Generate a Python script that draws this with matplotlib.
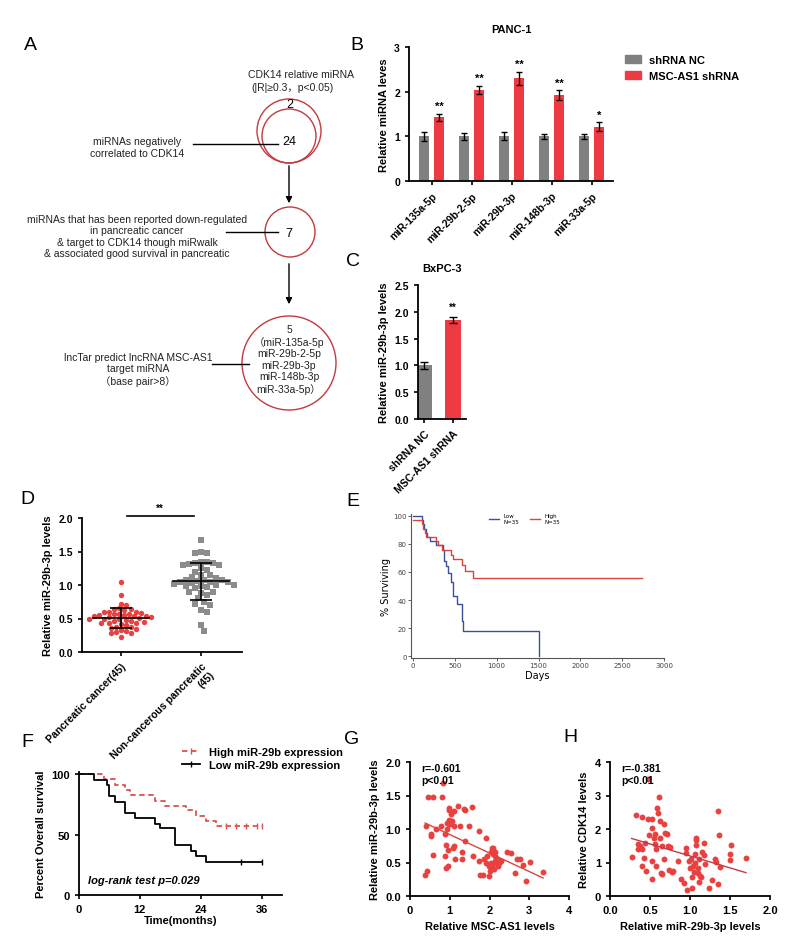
import numpy as np
import matplotlib
matplotlib.use('Agg')
import matplotlib.pyplot as plt
from matplotlib.patches import Circle, Patch
from matplotlib.lines import Line2D

plt.rcParams['font.family'] = ['Liberation Sans', 'Noto Sans CJK SC', 'DejaVu Sans']

# ---- data ----
# B: PANC-1
b_cats = ['miR-135a-5p', 'miR-29b-2-5p', 'miR-29b-3p', 'miR-148b-3p', 'miR-33a-5p']
b_nc = [1.0, 1.0, 1.0, 1.0, 1.0]
b_nc_err = [0.10, 0.08, 0.09, 0.05, 0.05]
b_sh = [1.43, 2.04, 2.30, 1.92, 1.22]
b_sh_err = [0.08, 0.09, 0.15, 0.11, 0.09]
b_stars = ['**', '**', '**', '**', '*']

# C: BxPC-3
c_cats = ['shRNA NC', 'MSC-AS1 shRNA']
c_vals = [1.0, 1.85]
c_err = [0.06, 0.06]

# D: tissue levels
d_cats = ['Pancreatic cancer(45)', 'Non-cancerous pancreatic\n(45)']
d_cancer = [1.04, 0.85, 0.72, 0.70, 0.65, 0.64, 0.64, 0.63, 0.60, 0.60,
            0.59, 0.58, 0.57, 0.57, 0.56, 0.55, 0.55, 0.54, 0.53, 0.53,
            0.52, 0.52, 0.51, 0.50, 0.50, 0.49, 0.48, 0.47, 0.46, 0.45,
            0.44, 0.44, 0.43, 0.42, 0.40, 0.38, 0.37, 0.36, 0.35, 0.33,
            0.32, 0.30, 0.29, 0.28, 0.23]
d_normal = [1.67, 1.49, 1.48, 1.48, 1.35, 1.34, 1.33, 1.33, 1.32, 1.30,
            1.30, 1.25, 1.23, 1.20, 1.15, 1.15, 1.12, 1.10, 1.08, 1.08,
            1.07, 1.06, 1.05, 1.05, 1.04, 1.03, 1.02, 1.00, 1.00, 0.98,
            0.98, 0.97, 0.95, 0.90, 0.90, 0.88, 0.85, 0.80, 0.75, 0.72,
            0.70, 0.62, 0.60, 0.40, 0.32]

# E: KM (days)
e_low_t = [0, 105, 120, 135, 150, 165, 200, 270, 355, 370, 390, 415, 455, 475, 530, 580, 600, 1500]
e_low_s = [100, 97, 94, 91, 88, 85, 82, 79, 76, 68, 64, 59, 53, 43, 37, 25, 18, 0]
e_high_t = [0, 105, 120, 140, 160, 270, 300, 350, 460, 480, 590, 620, 720, 2740]
e_high_s = [97, 94, 91, 88, 85, 82, 79, 76, 72, 69, 65, 61, 56, 56]

# F: KM (months)
f_high_t = [0, 5, 7, 9, 10, 15, 17, 21, 23, 25, 27, 36]
f_high_s = [100, 96, 91, 87, 83, 78, 74, 70, 65, 61, 57, 57]
f_high_cens = [29, 31, 33, 35, 36]
f_low_t = [0, 3, 5.5, 6, 7, 9, 11, 15, 16, 19, 22, 23, 25, 36]
f_low_s = [100, 95, 91, 82, 77, 68, 64, 59, 55, 41, 36, 32, 27, 27]
f_low_cens = [32, 36]

# G: MSC-AS1 vs miR-29b-3p
g_x = [0.38, 0.42, 0.40, 0.46, 0.57, 0.80, 0.84, 0.52, 0.54, 0.59, 0.66, 0.78, 0.89, 0.93,
       0.88, 0.91, 0.95, 0.91, 0.95, 0.97, 0.99, 0.93, 0.97, 1.01, 1.05, 0.99, 1.03, 1.10,
       1.10, 1.08, 1.11, 1.12, 1.22, 1.27, 1.31, 1.31, 1.35, 1.39, 1.39, 1.48, 1.56, 1.59,
       1.73, 1.73, 1.77, 1.83, 1.86, 1.90, 1.92, 1.94, 1.98, 1.98, 2.00, 2.03, 2.05, 2.07,
       2.09, 2.07, 2.11, 2.14, 2.15, 2.17, 2.19, 2.21, 2.24, 2.28, 2.09, 2.15, 2.43, 2.53,
       2.63, 2.70, 2.77, 2.84, 2.91, 3.02, 3.35]
g_y = [0.32, 0.37, 1.04, 1.48, 1.48, 1.48, 1.68, 0.90, 0.92, 0.61, 1.00, 1.04, 0.92, 1.00,
       0.60, 0.42, 0.45, 0.76, 0.69, 1.32, 1.29, 1.09, 1.08, 1.07, 1.12, 1.14, 1.22, 1.27,
       1.04, 0.72, 0.75, 0.55, 1.34, 1.04, 0.65, 0.55, 1.30, 1.28, 0.82, 1.04, 1.33, 0.60,
       0.97, 0.52, 0.32, 0.32, 0.55, 0.50, 0.86, 0.60, 0.45, 0.30, 0.37, 0.65, 0.50, 0.71,
       0.72, 0.45, 0.41, 0.52, 0.60, 0.49, 0.55, 0.45, 0.50, 0.52, 0.62, 0.66, 0.65, 0.64,
       0.35, 0.55, 0.55, 0.46, 0.23, 0.51, 0.36]

# H: miR-29b-3p vs CDK14
h_x = [0.27, 0.32, 0.35, 0.35, 0.38, 0.39, 0.40, 0.40, 0.42, 0.40, 0.45, 0.44, 0.48, 0.47,
       0.49, 0.52, 0.53, 0.53, 0.53, 0.55, 0.56, 0.56, 0.58, 0.58, 0.59, 0.60, 0.61, 0.63,
       0.63, 0.64, 0.65, 0.65, 0.67, 0.68, 0.69, 0.71, 0.73, 0.74, 0.75, 0.77, 0.79, 0.85,
       0.89, 0.92, 0.95, 0.95, 0.96, 0.99, 1.00, 1.01, 1.02, 1.03, 1.04, 1.05, 1.06, 1.06,
       1.08, 1.08, 1.08, 1.10, 1.10, 1.11, 1.13, 1.14, 1.11, 1.15, 1.17, 1.18, 1.19, 1.24,
       1.28, 1.31, 1.33, 1.35, 1.35, 1.36, 1.38, 1.50, 1.51, 1.50, 1.70]
h_y = [1.16, 2.42, 1.54, 1.39, 1.49, 1.44, 1.39, 2.37, 1.14, 0.90, 0.75, 1.59, 2.29, 3.50,
       1.81, 0.50, 2.29, 2.04, 1.04, 1.74, 1.84, 1.54, 1.39, 0.90, 2.64, 2.49, 2.97, 2.24,
       1.74, 0.70, 0.65, 1.49, 1.11, 2.14, 1.89, 1.84, 1.49, 0.77, 1.47, 0.72, 0.75, 1.04,
       0.52, 0.40, 1.44, 1.29, 0.18, 1.04, 0.85, 1.11, 0.58, 0.25, 0.90, 0.72, 1.00, 1.24,
       1.74, 1.67, 1.51, 0.85, 0.70, 0.42, 0.60, 0.58, 1.09, 1.31, 1.22, 1.57, 0.95, 0.25,
       0.48, 1.09, 1.01, 2.54, 0.35, 1.81, 0.88, 1.24, 1.51, 1.07, 1.14]

GRAY = '#808080'
RED = '#ee3a43'
DOT = '#e8413f'

W, H = 800, 953
fig = plt.figure(figsize=(8, 9.53), dpi=100)


def box(l, t, r, b):
    return fig.add_axes([l / W, 1 - b / H, (r - l) / W, (b - t) / H])


def prism(ax, size=7.5):
    for s in ['top', 'right']:
        ax.spines[s].set_visible(False)
    for s in ['left', 'bottom']:
        ax.spines[s].set_linewidth(1.3)
    ax.tick_params(width=1.2, length=3, labelsize=size)
    for lab in ax.get_xticklabels() + ax.get_yticklabels():
        lab.set_fontweight('bold')


def step_at(times, surv, t):
    i = np.searchsorted(times, t, side='right') - 1
    return np.array(surv)[i]


def swarm(vals, sx, sy, d):
    # simple beeswarm: sx, sy = px per data unit, d = marker spacing in px
    order = np.argsort(vals)[::-1]
    placed = []
    offs = np.zeros(len(vals))
    for i in order:
        y = vals[i] * sy
        k = 0
        while True:
            cand = [0.0] if k == 0 else [k * d * 0.5, -k * d * 0.5]
            ok = None
            for c in cand:
                if all((c - px) ** 2 + (y - py) ** 2 >= d * d for px, py in placed):
                    ok = c
                    break
            if ok is not None:
                break
            k += 1
        placed.append((ok, y))
        offs[i] = ok / sx
    return offs


# ---- overlay for panel A and letters ----
ov = fig.add_axes([0, 0, 1, 1])
ov.set_xlim(0, W)
ov.set_ylim(H, 0)
ov.axis('off')

for cx, cy, r in [(289, 132, 32), (289, 137, 27), (290, 233, 25), (289, 364, 47)]:
    ov.add_patch(Circle((cx, cy), r, fill=False, ec='#c23a3f', lw=1))
ov.annotate('', xy=(289, 207), xytext=(289, 164),
            arrowprops=dict(arrowstyle='-|>', color='k', lw=1, mutation_scale=9))
ov.annotate('', xy=(289, 308), xytext=(289, 262),
            arrowprops=dict(arrowstyle='-|>', color='k', lw=1, mutation_scale=9))
ov.plot([193, 278], [145, 145], color='k', lw=1)
ov.plot([226, 278], [233, 233], color='k', lw=1)
ov.plot([212, 249], [365, 365], color='k', lw=1)

ta = dict(ha='center', va='center', fontsize=7.5, color='#222222')
ov.text(301, 75, 'CDK14 relative miRNA', **ta)
ov.text(292, 88, '(|R|≥0.3，p<0.05)', **ta)
ov.text(290, 105, '2', ha='center', va='center', fontsize=9)
ov.text(289, 142, '24', ha='center', va='center', fontsize=9)
ov.text(289, 234, '7', ha='center', va='center', fontsize=9)
ov.text(137, 148, 'miRNAs negatively\ncorrelated to CDK14', **ta)
ov.text(137, 237, 'miRNAs that has been reported down-regulated\nin pancreatic cancer\n'
        '& target to CDK14 though miRwalk\n& associated good survival in pancreatic', **ta)
ov.text(138, 370, 'lncTar predict lncRNA MSC-AS1\ntarget miRNA\n（base pair>8）', **ta)
ov.text(289, 360, '5\n（miR-135a-5p\nmiR-29b-2-5p\nmiR-29b-3p\nmiR-148b-3p\nmiR-33a-5p）', **ta)

for lab, x, y in [('A', 30, 45), ('B', 357, 45), ('C', 353, 262), ('D', 27, 500),
                  ('E', 353, 502), ('F', 27, 743), ('G', 352, 740), ('H', 570, 738)]:
    ov.text(x, y, lab, ha='center', va='center', fontsize=14)

# ---- B ----
axB = box(409, 48, 613, 182)
x = np.arange(len(b_cats))
ek = dict(elinewidth=1, capthick=1)
axB.bar(x - 0.1875, b_nc, 0.25, yerr=b_nc_err, color=GRAY, capsize=2.5, error_kw=ek)
axB.bar(x + 0.1875, b_sh, 0.25, yerr=b_sh_err, color=RED, capsize=2.5, error_kw=ek)
for i in range(len(b_cats)):
    axB.text(x[i] + 0.1875, b_sh[i] + b_sh_err[i] + 0.06, b_stars[i], ha='center',
             va='bottom', fontsize=8, fontweight='bold')
axB.set_xlim(-0.5625, 4.5375)
axB.set_ylim(0, 3)
axB.set_yticks([0, 1, 2, 3])
axB.set_xticks(x)
axB.set_xticklabels(b_cats, rotation=45, ha='right', rotation_mode='anchor')
axB.set_ylabel('Relative miRNA leves', fontsize=8, fontweight='bold')
axB.set_title('PANC-1', fontsize=8, fontweight='bold', pad=11)
prism(axB)
fig.legend([Patch(color=GRAY), Patch(color=RED)], ['shRNA NC', 'MSC-AS1 shRNA'],
           loc='upper left', bbox_to_anchor=(615 / W, 1 - 46 / H), frameon=False,
           handlelength=1.4, handleheight=0.7, prop=dict(size=8, weight='bold'))

# ---- C ----
axC = box(418, 286, 466, 420)
axC.bar([0, 1], c_vals, 0.55, yerr=c_err, color=[GRAY, RED], capsize=3, error_kw=ek)
axC.text(1, c_vals[1] + c_err[1] + 0.08, '**', ha='center', va='bottom', fontsize=7,
         fontweight='bold')
axC.set_xlim(-0.2, 1.45)
axC.set_ylim(0, 2.5)
axC.set_yticks([0, 0.5, 1.0, 1.5, 2.0, 2.5])
axC.set_yticklabels(['0.0', '0.5', '1.0', '1.5', '2.0', '2.5'])
axC.set_xticks([0, 1])
axC.set_xticklabels(c_cats, rotation=45, ha='right', rotation_mode='anchor')
axC.set_ylabel('Relative miR-29b-3p levels', fontsize=8, fontweight='bold')
axC.set_title('BxPC-3', fontsize=8, fontweight='bold', pad=10)
prism(axC)

# ---- D ----
axD = box(82, 519, 242, 653)
for i, (vals, col, mk, dd) in enumerate([(d_cancer, DOT, 'o', 5.0),
                                         (d_normal, '#8c8c8c', 's', 6.0)]):
    v = np.array(vals)
    offs = swarm(v, 80, 67, dd)
    axD.scatter(i + offs, v, s=15, color=col, marker=mk, lw=0, zorder=2)
    m, sd = v.mean(), v.std(ddof=1)
    axD.plot([i - 0.35, i + 0.35], [m, m], color='k', lw=1.2, zorder=3)
    axD.errorbar(i, m, yerr=sd, color='k', capsize=8, lw=1.2, capthick=1.2, zorder=3)
axD.plot([0.075, 0.9125], [2.03, 2.03], color='k', lw=1.2, clip_on=False)
axD.text(0.49, 2.07, '**', ha='center', va='bottom', fontsize=7, fontweight='bold')
axD.set_xlim(-0.4875, 1.5125)
axD.set_ylim(0, 2)
axD.set_yticks([0, 0.5, 1.0, 1.5, 2.0])
axD.set_yticklabels(['0.0', '0.5', '1.0', '1.5', '2.0'])
axD.set_xticks([0, 1])
axD.set_xticklabels(d_cats, rotation=45, ha='right', rotation_mode='anchor')
axD.set_ylabel('Relative miR-29b-3p levels', fontsize=8, fontweight='bold')
prism(axD)

# ---- E ----
axE = box(411, 515, 664, 659)
axE.step(e_low_t, e_low_s, where='post', color='#3b4f9c', lw=1, label='Low\nN=35')
axE.step(e_high_t, e_high_s, where='post', color='#d9443f', lw=1, label='High\nN=35')
axE.set_xlim(-24, 3000)
axE.set_ylim(-1.4, 101.4)
axE.set_xticks(range(0, 3001, 500))
axE.set_yticks(range(0, 101, 20))
for s in ['top', 'right']:
    axE.spines[s].set_visible(False)
for s in ['left', 'bottom']:
    axE.spines[s].set_color('#555555')
    axE.spines[s].set_linewidth(0.8)
axE.tick_params(labelsize=5, colors='#444444', length=2, width=0.6, pad=1)
axE.set_xlabel('Days', fontsize=7, labelpad=1, family='DejaVu Sans')
axE.set_ylabel('% Surviving', fontsize=7, labelpad=2, family='DejaVu Sans')
for lab in axE.get_xticklabels() + axE.get_yticklabels():
    lab.set_family('DejaVu Sans')
axE.legend(ncol=2, loc='upper center', bbox_to_anchor=(0.45, 1.04), frameon=False,
           handlelength=1.8, columnspacing=2, prop=dict(family='DejaVu Sans', size=4))

# ---- F ----
axF = box(79, 773, 282, 896)
fr = '#d9534f'
axF.step(f_high_t, f_high_s, where='post', color=fr, lw=1.3, ls=(0, (3, 2)))
axF.step(f_low_t, f_low_s, where='post', color='k', lw=1.3)
axF.plot(f_high_cens, step_at(f_high_t, f_high_s, f_high_cens), '|', color=fr, ms=4, mew=1)
axF.plot(f_low_cens, step_at(f_low_t, f_low_s, f_low_cens), '|', color='k', ms=4, mew=1)
axF.text(1.8, 10, 'log-rank test p=0.029', fontsize=8, style='italic', fontweight='bold')
axF.set_xlim(0, 40)
axF.set_ylim(0, 101.7)
axF.set_xticks([0, 12, 24, 36])
axF.set_yticks([0, 50, 100])
axF.set_xlabel('Time(months)', fontsize=8, fontweight='bold', labelpad=1)
axF.set_ylabel('Percent Overall survival', fontsize=8, fontweight='bold')
prism(axF, 8)
fig.legend([Line2D([], [], color=fr, lw=1.3, ls=(0, (3, 2)), marker='|', ms=4),
            Line2D([], [], color='k', lw=1.3, marker='|', ms=4)],
           ['High miR-29b expression', 'Low miR-29b expression'],
           loc='upper left', bbox_to_anchor=(172 / W, 1 - 738 / H), frameon=False,
           handlelength=1.6, labelspacing=0.3, prop=dict(size=8, weight='bold'))

# ---- G ----
axG = box(410, 763, 569, 897)
axG.scatter(g_x, g_y, s=18, color=DOT, lw=0)
k, b = np.polyfit(g_x, g_y, 1)
gx = np.array([min(g_x), max(g_x)])
axG.plot(gx, k * gx + b, color='#d9443f', lw=1)
axG.text(0.28, 1.98, 'r=-0.601\np<0.01', fontsize=7.5, fontweight='bold', va='top')
axG.set_xlim(0, 4)
axG.set_ylim(0, 2)
axG.set_xticks([0, 1, 2, 3, 4])
axG.set_yticks([0, 0.5, 1.0, 1.5, 2.0])
axG.set_yticklabels(['0.0', '0.5', '1.0', '1.5', '2.0'])
axG.set_xlabel('Relative MSC-AS1 levels', fontsize=8, fontweight='bold')
axG.set_ylabel('Relative miR-29b-3p levels', fontsize=8, fontweight='bold')
prism(axG, 8)

# ---- H ----
axH = box(610, 763, 770, 897)
axH.scatter(h_x, h_y, s=18, color=DOT, lw=0)
k, b = np.polyfit(h_x, h_y, 1)
hx = np.array([min(h_x), max(h_x)])
axH.plot(hx, k * hx + b, color='#c23a48', lw=1)
axH.text(0.14, 3.96, 'r=-0.381\np<0.01', fontsize=7.5, fontweight='bold', va='top')
axH.set_xlim(0, 2)
axH.set_ylim(0, 4)
axH.set_xticks([0, 0.5, 1.0, 1.5, 2.0])
axH.set_xticklabels(['0.0', '0.5', '1.0', '1.5', '2.0'])
axH.set_yticks([0, 1, 2, 3, 4])
axH.set_xlabel('Relative miR-29b-3p levels', fontsize=8, fontweight='bold')
axH.set_ylabel('Relative CDK14 levels', fontsize=8, fontweight='bold')
prism(axH, 8)

fig.savefig('out.png', dpi=100)
